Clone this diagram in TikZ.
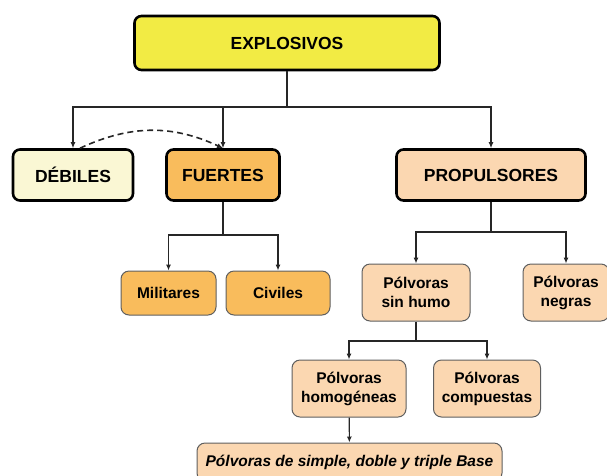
\documentclass[tikz,border=0pt]{standalone}
\usepackage{fontspec}
\setmainfont{Liberation Sans}
\usetikzlibrary{arrows.meta}
\definecolor{colyellow}{RGB}{242, 235, 68}
\definecolor{colcream}{RGB}{250, 247, 212}
\definecolor{colorange}{RGB}{249, 188, 92}
\definecolor{colpeach}{RGB}{251, 215, 177}
\definecolor{colrim}{RGB}{95, 95, 95}

\tikzset{
  topbox/.style = {draw, line width=2.6pt, rounded corners=7pt, align=center,
    font=\fontsize{17.5}{21}\selectfont\bfseries, inner sep=0pt},
  subbox/.style = {draw=colrim, line width=1pt, rounded corners=8pt, align=center,
    font=\fontsize{15.5}{19}\selectfont\bfseries, inner sep=0pt},
  arr/.style = {line width=1.1pt, draw=black!85, -{Latex[length=6pt,width=5pt]}}
}

\begin{document}
\begin{tikzpicture}[x=1pt, y=-1pt]
\useasboundingbox (0,0) rectangle (607,475);
\clip (0,0) rectangle (607,475);

\node[topbox, fill=colyellow, minimum width=305, minimum height=54] (expl) at (287,43) {EXPLOSIVOS};
\node[topbox, fill=colcream, minimum width=120, minimum height=51] (deb) at (73,175) {DÉBILES};
\node[topbox, fill=colorange, minimum width=113, minimum height=51] (fue) at (223,175) {FUERTES};
\node[topbox, fill=colpeach, minimum width=189, minimum height=51] (prop) at (491,175) {PROPULSORES};

\node[subbox, fill=colorange, minimum width=95, minimum height=44] (mil) at (168.5,293) {Militares};
\node[subbox, fill=colorange, minimum width=104, minimum height=44] (civ) at (278,293) {Civiles};

\node[subbox, fill=colpeach, minimum width=108, minimum height=57] (sinh) at (416,292.5) {Pólvoras\\sin humo};
\node[subbox, fill=colpeach, minimum width=86, minimum height=57] (neg) at (566,292.5) {Pólvoras\\negras};
\node[subbox, fill=colpeach, minimum width=114, minimum height=57] (homo) at (349,388.5) {Pólvoras\\homogéneas};
\node[subbox, fill=colpeach, minimum width=107, minimum height=57] (comp) at (487,388.5) {Pólvoras\\compuestas};
\node[subbox, fill=colpeach, minimum width=305, minimum height=38,
  font=\fontsize{15.5}{19}\selectfont\bfseries\itshape] (base) at (349.5,462) {Pólvoras de simple, doble y triple Base};

% explosivos
\coordinate (j1) at (287,107);
\draw[line width=1.1pt, black!85] (expl) -- (j1);
\draw[arr] (j1) -| (deb);
\draw[arr] (j1) -| (fue);
\draw[arr] (j1) -| (prop);
\draw[arr, line width=1.6pt, dash pattern=on 6pt off 4pt] ([xshift=7pt]deb.north) to[bend left=25] (fue.north);

% fuertes
\coordinate (j2) at (223,235);
\draw[line width=1.1pt, black!85] (fue) -- (j2);
\draw[arr] (j2) -| (mil);
\draw[arr] (j2) -| (civ);

% propulsores
\coordinate (j3) at (491,232);
\draw[line width=1.1pt, black!85] (prop) -- (j3);
\draw[arr] (j3) -| (sinh);
\draw[arr] (j3) -| (neg);

% sin humo
\coordinate (j4) at (416,341);
\draw[line width=1.1pt, black!85] (sinh) -- (j4);
\draw[arr] (j4) -| (homo);
\draw[arr] (j4) -| (comp);
\draw[arr] (homo) -- (base);
\end{tikzpicture}
\end{document}
